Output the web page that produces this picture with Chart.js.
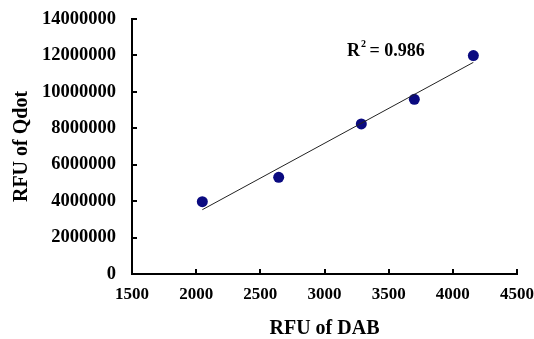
<!DOCTYPE html>
<html>
<head>
<meta charset="utf-8">
<script src="https://cdn.jsdelivr.net/npm/chart.js@4"></script>
<style>
  html, body { margin: 0; padding: 0; background: #fff; }
  #wrap { width: 534px; height: 339px; position: relative; }
</style>
</head>
<body>
<div id="wrap"><canvas id="chart"></canvas></div>
<script>
// data
const dabValues = [2048, 2643, 3287, 3700, 4160];
const qdotValues = [3970000, 5310000, 8240000, 9590000, 11990000];

// trendline end points (as drawn in the reference)
const trendX = [2048, 4160];
const trendY = [3530000, 11620000];

const rSquared = "0.986";

const xTicks = [1500, 2000, 2500, 3000, 3500, 4000, 4500];
const yTicks = [0, 2000000, 4000000, 6000000, 8000000, 10000000, 12000000, 14000000];

const FONT = "'Liberation Serif', 'Times New Roman', serif";

// small inward tick marks + R² label
const extras = {
    id: "extras",
    afterDraw(chart) {
        const ctx = chart.ctx;
        const x = chart.scales.x;
        const y = chart.scales.y;
        ctx.save();
        ctx.strokeStyle = "#000";
        ctx.lineWidth = 2;
        xTicks.forEach(v => {
            const px = Math.round(x.getPixelForValue(v));
            ctx.beginPath();
            ctx.moveTo(px, y.bottom);
            ctx.lineTo(px, y.bottom - 5);
            ctx.stroke();
        });
        yTicks.forEach(v => {
            const py = Math.round(y.getPixelForValue(v));
            ctx.beginPath();
            ctx.moveTo(x.left, py);
            ctx.lineTo(x.left + 5, py);
            ctx.stroke();
        });

        // R² = 0.986
        const tx = x.getPixelForValue(3175);
        const ty = y.getPixelForValue(11950000);
        ctx.fillStyle = "#000";
        ctx.textBaseline = "alphabetic";
        ctx.font = "bold 18px " + FONT;
        ctx.fillText("R", tx, ty);
        const rw = ctx.measureText("R").width;
        ctx.font = "bold 10px " + FONT;
        ctx.fillText("2", tx + rw + 1, ty - 9);
        ctx.font = "bold 18px " + FONT;
        ctx.fillText(" = " + rSquared, tx + rw + 5, ty);
        ctx.restore();
    }
};

const chart = new Chart(document.getElementById("chart"), {
    type: "scatter",
    data: {
        datasets: [
            {
                label: "trend",
                type: "line",
                data: trendX.map((v, i) => ({ x: v, y: trendY[i] })),
                borderColor: "#222",
                borderWidth: 1,
                pointRadius: 0,
                fill: false
            },
            {
                label: "points",
                data: dabValues.map((v, i) => ({ x: v, y: qdotValues[i] })),
                backgroundColor: "#0a0a80",
                borderColor: "#0a0a80",
                pointRadius: 5.5,
                pointBorderWidth: 0
            }
        ]
    },
    options: {
        responsive: true,
        maintainAspectRatio: false,
        animation: false,
        layout: { padding: { left: 10, right: 0, top: 0, bottom: 0 } },
        plugins: {
            legend: { display: false },
            tooltip: { enabled: false }
        },
        scales: {
            x: {
                type: "linear",
                min: 1500,
                max: 4500,
                afterBuildTicks: s => { s.ticks = xTicks.map(v => ({ value: v })); },
                afterFit: s => { s.height = 65; s.paddingRight = 17; s.paddingLeft = 0; },
                border: { display: true, color: "#000", width: 2 },
                grid: { display: true, drawOnChartArea: false, drawTicks: false },
                ticks: {
                    color: "#000",
                    padding: 10,
                    maxRotation: 0,
                    font: { family: FONT, size: 17, weight: "bold" },
                    callback: v => String(v)
                },
                title: {
                    display: true,
                    text: "RFU of DAB",
                    color: "#000",
                    padding: { top: 0, bottom: 0 },
                    font: { family: FONT, size: 20, weight: "bold", lineHeight: 1 }
                }
            },
            y: {
                type: "linear",
                min: 0,
                max: 14000000,
                afterBuildTicks: s => { s.ticks = yTicks.map(v => ({ value: v })); },
                afterFit: s => { s.width = 122; s.paddingTop = 19; s.paddingBottom = 0; },
                border: { display: true, color: "#000", width: 2 },
                grid: { display: true, drawOnChartArea: false, drawTicks: false },
                ticks: {
                    color: "#000",
                    padding: 16,
                    font: { family: FONT, size: 18.5, weight: "bold" },
                    callback: v => String(v)
                },
                title: {
                    display: true,
                    text: "RFU of Qdot",
                    color: "#000",
                    padding: { top: 0, bottom: 0 },
                    font: { family: FONT, size: 20, weight: "bold" }
                }
            }
        }
    },
    plugins: [extras]
});
</script>
</body>
</html>
